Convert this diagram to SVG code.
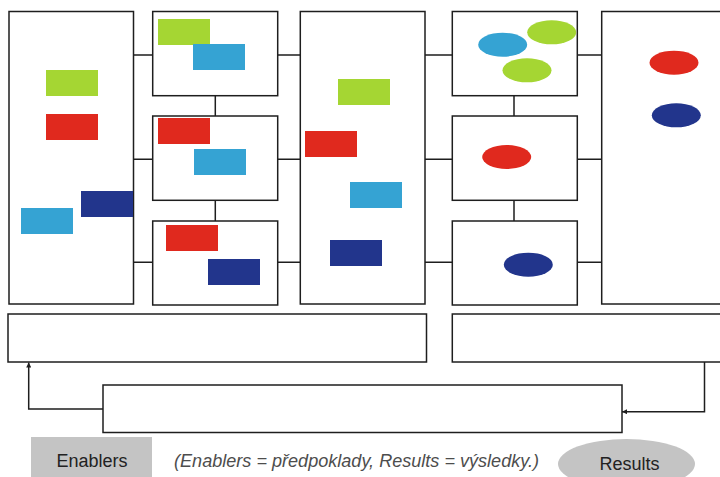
<svg xmlns="http://www.w3.org/2000/svg" width="720" height="477" viewBox="0 0 720 477">
<style>
.box{fill:#fff;stroke:#1e1e1e;stroke-width:1.5}
.con{stroke:#1e1e1e;stroke-width:1.5;fill:none}
.g{fill:#a5d633}.r{fill:#e0291e}.b{fill:#35a3d3}.n{fill:#22358c}
.lbl{font-family:"Liberation Sans",Arial,sans-serif;font-size:18px;fill:#222;text-anchor:middle}
.note{font-family:"Liberation Sans",Arial,sans-serif;font-size:18px;font-style:italic;fill:#4d4d4d}
</style>
<defs>
<marker id="ah" viewBox="0 0 10 10" refX="10" refY="5" markerWidth="5" markerHeight="5" orient="auto" markerUnits="userSpaceOnUse">
<path d="M0,0L10,5L0,10z" fill="#1e1e1e"/>
</marker>
</defs>
<rect width="720" height="477" fill="#fff"/>
<g id="connectors">
<path class="con" d="M133.5,55H152.5M133.5,159.3H152.5M133.5,262.3H152.5"/>
<path class="con" d="M277.5,55H300.5M277.5,159.3H300.5M277.5,262.3H300.5"/>
<path class="con" d="M425,55H452.5M425,159.3H452.5M425,262.3H452.5"/>
<path class="con" d="M577.5,55H602M577.5,159.3H602M577.5,262.3H602"/>
<path class="con" d="M215.3,95.7V116M215.3,200.3V221"/>
<path class="con" d="M514,95.7V116M514,200.3V221"/>
<path class="con" d="M103,409H28.7V362.5" marker-end="url(#ah)"/>
<path class="con" d="M704.5,362V411.7H622" marker-end="url(#ah)"/>
</g>
<g id="enablers-left">
<rect class="box" x="9" y="11.5" width="124.5" height="292.5"/>
<rect class="g" x="46" y="70" width="52" height="26"/>
<rect class="r" x="46" y="114" width="52" height="26"/>
<rect class="n" x="81" y="191" width="52" height="26"/>
<rect class="b" x="21" y="208" width="52" height="26"/>
</g>
<g id="col2-box1">
<rect class="box" x="152.7" y="11.5" width="125" height="84.2"/>
<rect class="g" x="158" y="19" width="52" height="26"/>
<rect class="b" x="193" y="44" width="52" height="26"/>
</g>
<g id="col2-box2">
<rect class="box" x="152.7" y="116" width="125" height="84.3"/>
<rect class="r" x="158" y="118" width="52" height="26"/>
<rect class="b" x="194" y="149" width="52" height="26"/>
</g>
<g id="col2-box3">
<rect class="box" x="152.7" y="221" width="125" height="84"/>
<rect class="r" x="166" y="225" width="52" height="26"/>
<rect class="n" x="208" y="259" width="52" height="26"/>
</g>
<g id="col3">
<rect class="box" x="300.3" y="11.5" width="124.7" height="292.5"/>
<rect class="g" x="338" y="79" width="52" height="26"/>
<rect class="r" x="305" y="131" width="52" height="26"/>
<rect class="b" x="350" y="182" width="52" height="26"/>
<rect class="n" x="330" y="240" width="52" height="26"/>
</g>
<g id="col4-box1">
<rect class="box" x="452.3" y="11.5" width="125" height="84.2"/>
<ellipse class="b" cx="502.7" cy="44.7" rx="24.5" ry="12"/>
<ellipse class="g" cx="551.7" cy="32.3" rx="24.5" ry="12"/>
<ellipse class="g" cx="527" cy="70.3" rx="24.5" ry="12"/>
</g>
<g id="col4-box2">
<rect class="box" x="452.3" y="116" width="125" height="84.3"/>
<ellipse class="r" cx="506.7" cy="157" rx="24.5" ry="12"/>
</g>
<g id="col4-box3">
<rect class="box" x="452.3" y="221" width="125" height="84"/>
<ellipse class="n" cx="528.3" cy="264.7" rx="24.5" ry="12"/>
</g>
<g id="results-right">
<rect class="box" x="601.7" y="11.5" width="130" height="292.5"/>
<ellipse class="r" cx="674" cy="62.7" rx="24.5" ry="12"/>
<ellipse class="n" cx="676.3" cy="115.3" rx="24.5" ry="12"/>
</g>
<g id="bottom-left">
<rect class="box" x="8" y="314" width="418.5" height="48"/>
</g>
<g id="bottom-right">
<rect class="box" x="452.3" y="314" width="280" height="48"/>
</g>
<g id="bottom-center">
<rect class="box" x="103" y="385" width="519" height="47.5"/>
</g>
<g id="legend-enablers">
<rect x="31" y="437" width="121" height="42" fill="#c4c4c4"/>
<text class="lbl" x="92" y="467">Enablers</text>
</g>
<g id="legend-note">
<text class="note" x="174" y="467" textLength="365" lengthAdjust="spacingAndGlyphs">(Enablers = předpoklady, Results = výsledky.)</text>
</g>
<g id="legend-results">
<ellipse cx="626.5" cy="464" rx="68.5" ry="25" fill="#c4c4c4"/>
<text class="lbl" x="629.5" y="470">Results</text>
</g>
</svg>
